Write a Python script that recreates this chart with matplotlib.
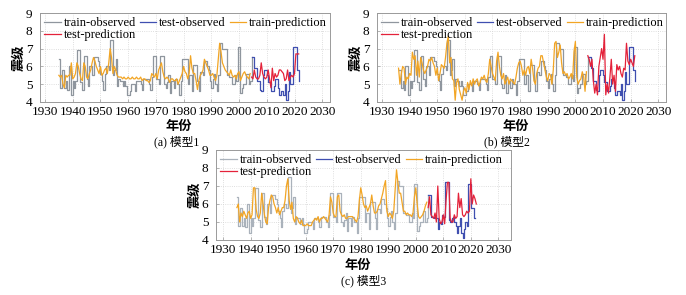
import numpy as np
import matplotlib.pyplot as plt

# observed magnitudes, half-year steps
obs_train = [6.4, 4.8, 5.8, 5.8, 4.8, 5.2, 4.7, 6.0, 6.0, 4.4,
             5.2, 4.8, 5.2, 6.9, 6.9, 5.1, 5.1, 4.7, 6.6, 6.6,
             5.3, 4.9, 6.0, 6.0, 5.5, 6.5, 6.5, 6.5, 6.3, 6.0,
             5.6, 5.2, 4.7, 5.6, 6.0, 6.0, 5.8, 7.5, 7.5, 5.5,
             5.8, 6.4, 4.9, 5.3, 5.2, 5.2, 4.9, 5.2, 4.9, 4.4,
             4.4, 4.6, 5.0, 5.0, 5.0, 4.6, 5.2, 5.2, 5.2, 5.0,
             4.7, 5.3, 5.3, 5.3, 5.3, 5.0, 4.7, 5.4, 6.6, 6.6,
             5.3, 5.3, 5.0, 6.6, 6.6, 6.6, 5.0, 4.8, 5.1, 5.5,
             4.5, 5.2, 5.2, 4.8, 5.3, 5.0, 5.0, 4.4, 5.2, 6.4,
             6.4, 6.4, 6.4, 5.0, 5.5, 5.5, 4.6, 6.1, 6.1, 6.1,
             5.2, 4.6, 5.7, 5.7, 5.5, 6.3, 6.3, 6.0, 5.8, 5.2,
             4.8, 5.3, 5.6, 5.0, 4.6, 5.5, 7.3, 7.3, 7.0, 7.0,
             7.0, 5.5, 5.5, 5.4, 5.4, 5.0, 5.0, 5.5, 5.2, 7.1,
             7.1, 4.5, 4.8, 5.0, 5.0, 5.6, 5.6, 5.0, 5.2]
obs_test = [6.5, 6.5, 5.9, 5.9, 5.2, 5.2, 4.7, 4.6, 5.5, 5.8,
            5.8, 5.5, 5.1, 5.1, 4.6, 4.6, 4.9, 5.3, 5.3, 4.8,
            4.4, 4.6, 4.6, 4.4, 5.0, 4.1, 4.6, 5.7, 5.0, 5.0,
            7.1, 7.1, 7.1, 5.8, 5.2]
obs_test_c = [6.5, 6.5, 5.3, 5.3, 5.2, 5.4, 5.2, 4.6, 5.0, 4.9,
              5.4, 5.3, 7.2, 7.2, 7.2, 5.1, 5.0, 5.2, 5.3, 5.0,
              4.8, 4.4, 4.8, 5.2, 4.4, 4.1, 4.6, 5.0, 4.8, 7.1,
              7.1, 5.8, 5.8, 5.2, 5.2]

# model 1
pred_train_1 = [5.5, 5.4, 5.5, 5.0, 4.8, 5.5, 5.4, 5.5, 5.5, 6.2,
                5.3, 5.4, 5.6, 6.2, 6.0, 5.6, 5.3, 5.2, 6.2, 6.0,
                5.4, 5.3, 5.6, 5.8, 6.2, 6.5, 6.3, 6.0, 5.8, 5.6,
                6.0, 5.5, 5.6, 5.8, 5.9, 5.6, 6.2, 7.0, 6.5, 5.6,
                6.0, 5.8, 5.5, 5.4, 5.4, 5.4, 5.3, 5.4, 5.3, 5.3,
                5.4, 5.3, 5.3, 5.4, 5.3, 5.3, 5.4, 5.3, 5.3, 5.4,
                5.2, 5.3, 5.3, 5.2, 5.2, 5.1, 5.2, 5.6, 5.5, 5.4,
                5.6, 5.3, 5.8, 6.0, 6.2, 5.7, 5.4, 5.3, 5.4, 5.3,
                5.1, 5.3, 5.3, 5.2, 5.2, 5.3, 5.0, 5.2, 5.4, 5.6,
                6.0, 5.7, 5.6, 5.3, 5.6, 6.6, 5.9, 5.6, 5.6, 5.2,
                4.7, 5.2, 5.5, 5.6, 5.8, 6.4, 6.2, 6.0, 5.8, 5.5,
                5.5, 5.6, 5.4, 5.2, 5.5, 6.4, 7.3, 6.8, 6.2, 6.0,
                5.8, 5.7, 5.6, 5.5, 5.8, 5.5, 5.4, 5.5, 5.3, 5.6,
                5.7, 5.2, 5.4, 5.6, 5.7, 5.5, 5.4, 5.3, 5.6]
pred_test_1 = [5.4, 5.3, 5.8, 5.4, 5.3, 5.3, 5.5, 6.2, 5.6, 5.4,
               5.3, 5.4, 5.8, 5.3, 4.8, 5.9, 5.2, 5.6, 5.4, 5.5,
               5.8, 5.8, 5.7, 5.6, 5.2, 5.3, 5.8, 5.2, 5.4, 5.5,
               5.4, 5.6, 6.7, 6.7, 6.7]

# model 2 (starts 1936)
pred_train_2 = [5.9, 5.0, 5.6, 6.0, 5.9, 5.0, 5.4, 5.3, 5.6, 5.5,
                6.8, 6.4, 6.6, 5.5, 6.3, 5.4, 6.5, 6.2, 5.8, 5.6,
                5.8, 6.0, 6.4, 6.3, 6.5, 6.2, 6.0, 5.5, 5.9, 5.2,
                5.6, 6.1, 6.0, 5.9, 6.5, 7.3, 7.7, 6.2, 6.5, 5.3,
                5.2, 4.1, 5.1, 5.3, 4.7, 4.4, 4.1, 4.6, 4.8, 4.5,
                5.1, 4.7, 5.2, 4.9, 5.3, 5.0, 5.2, 5.3, 4.9, 5.1,
                5.4, 5.3, 5.5, 5.2, 5.1, 5.6, 6.4, 6.0, 5.6, 5.4,
                5.2, 6.3, 6.8, 6.0, 5.5, 5.3, 5.6, 5.0, 5.2, 5.4,
                5.0, 5.3, 5.2, 5.1, 5.0, 5.4, 5.9, 6.2, 6.3, 6.0,
                5.5, 5.8, 5.5, 5.9, 6.0, 5.6, 6.4, 5.9, 5.2, 5.0,
                5.6, 5.9, 6.0, 6.6, 6.6, 6.2, 5.8, 5.4, 5.2, 5.6,
                5.5, 5.0, 5.8, 7.3, 7.4, 6.5, 6.8, 7.2, 6.2, 5.6,
                5.7, 5.5, 5.6, 5.3, 5.4, 5.6, 5.3, 6.8, 7.4, 5.4,
                5.0, 5.2, 5.3, 5.7, 5.4, 4.6, 5.7]
pred_test_2 = [6.6, 6.4, 6.0, 6.4, 5.2, 4.5, 5.0, 4.4, 6.0, 6.5,
               7.0, 6.4, 7.8, 4.4, 5.0, 4.5, 5.4, 6.4, 5.0, 5.5,
               4.6, 6.1, 5.8, 6.0, 5.6, 5.4, 5.9, 5.8, 7.3, 6.3,
               6.1, 6.4, 6.2, 6.0, 6.6]

# model 3
pred_train_3 = [5.8, 6.0, 5.0, 5.5, 5.3, 5.6, 5.4, 5.2, 5.5, 5.6,
                5.2, 5.4, 6.9, 6.9, 5.7, 5.3, 5.2, 5.5, 6.6, 6.0,
                5.4, 5.0, 4.9, 5.8, 6.2, 6.5, 6.4, 6.0, 5.8, 5.5,
                5.8, 5.4, 5.6, 5.8, 5.8, 6.2, 7.0, 7.4, 6.2, 5.7,
                6.1, 5.2, 5.0, 5.3, 5.2, 5.0, 4.9, 5.1, 4.8, 4.8,
                4.8, 4.9, 4.8, 4.8, 4.8, 5.0, 5.1, 5.2, 5.1, 5.3,
                5.0, 5.2, 5.2, 5.3, 5.2, 5.1, 5.0, 5.4, 6.4, 6.1,
                5.5, 5.3, 5.3, 6.4, 6.5, 5.6, 5.4, 5.3, 5.4, 5.2,
                5.2, 5.3, 5.3, 5.3, 5.3, 5.2, 5.1, 5.0, 5.3, 6.2,
                6.9, 6.5, 6.0, 5.8, 5.9, 5.6, 5.8, 6.0, 6.5, 5.9,
                5.5, 5.5, 5.6, 5.9, 6.0, 6.3, 6.6, 7.0, 7.3, 5.6,
                5.3, 5.5, 5.4, 5.2, 5.6, 6.8, 7.9, 7.2, 6.6, 6.6,
                6.1, 5.6, 5.6, 5.4, 5.5, 5.4, 5.4, 5.3, 5.5, 6.4,
                6.9, 6.0, 5.3, 5.2, 5.3, 5.4, 5.6, 5.9, 6.1]
pred_test_3 = [5.8, 6.4, 5.4, 5.3, 5.2, 5.5, 5.0, 7.0, 5.2, 4.9,
               5.0, 5.4, 4.9, 6.2, 7.2, 7.2, 5.2, 5.0, 5.0, 5.4,
               5.2, 5.3, 6.6, 5.8, 6.3, 5.4, 5.3, 5.4, 5.6, 5.5,
               5.6, 7.4, 6.0, 6.5, 6.3, 6.0]

labels = ['train-observed', 'test-observed', 'train-prediction', 'test-prediction']
colors = ['#8f969e', '#3f4fb0', '#f2a524', '#e4223a']
captions = ['(a) 模型1', '(b) 模型2', '(c) 模型3']

serif = ['Liberation Serif', 'Noto Sans CJK SC']
cjk = ['Noto Sans CJK SC', 'DejaVu Sans']

fig = plt.figure(figsize=(6.86, 2.95), dpi=100)
W, H = 686, 295
boxes = [(40, 13, 290, 89), (377, 13, 289, 89), (216, 150, 295, 90)]
xlims = [(1928.2, 2032.8), (1928.2, 2032.8), (1927.4, 2034.6)]
xlab_dy = [25, 25, 25.5]
cap_dy = [39.5, 39.5, 40.5]
cap_x = [0.47, 0.45, 0.5]

panels = [
    (1935.0, obs_train, obs_test, 1935.0, pred_train_1, pred_test_1),
    (1936.0, obs_train[2:], obs_test, 1936.0, pred_train_2, pred_test_2),
    (1935.0, obs_train, obs_test_c, 1935.0, pred_train_3, pred_test_3),
]

for i, (box, xl, p) in enumerate(zip(boxes, xlims, panels)):
    x0, y0, w, h = box
    ax = fig.add_axes([x0 / W, 1 - (y0 + h) / H, w / W, h / H])
    s_obs, o_tr, o_te, s_pred, p_tr, p_te = p
    t_tr = s_obs + 0.5 * np.arange(len(o_tr))
    t_te = 2004.5 + 0.5 * np.arange(len(o_te))
    tp_tr = s_pred + 0.5 * np.arange(len(p_tr))
    tp_te = 2004.5 + 0.5 * np.arange(len(p_te))

    obs_col = colors[0] if i < 2 else '#aab2bb'
    l1, = ax.step(np.r_[t_tr, t_te[0]], np.r_[o_tr, o_te[0]], where='post',
                  color=obs_col, lw=0.9)
    l2, = ax.step(t_te, o_te, where='post', color=colors[1], lw=0.9)
    l3, = ax.plot(tp_tr, p_tr, color=colors[2], lw=0.9)
    l4, = ax.plot(tp_te, p_te, color=colors[3], lw=0.9)

    ax.set_xlim(*xl)
    ax.set_ylim(4, 9)
    ax.set_xticks(range(1930, 2031, 10))
    ax.set_yticks(range(4, 10))
    ax.grid(True, color='#d4d4d4', ls=':', lw=0.6)
    ax.tick_params(direction='in', length=2, width=0.5, colors='#999999',
                   labelcolor='black')
    ax.tick_params(axis='x', pad=3, labelsize=9.5)
    ax.tick_params(axis='y', pad=5.5, labelsize=9.5)
    for lab in ax.get_xticklabels() + ax.get_yticklabels():
        lab.set_family(serif)
    for sp in ax.spines.values():
        sp.set_color('#9a9a9a')
        sp.set_linewidth(0.7)

    ax.set_xlabel('年份', family=serif, fontsize=9.5, fontweight='bold')
    ax.xaxis.label.set_va('center')
    ax.xaxis.set_label_coords(0.48, -xlab_dy[i] / h)
    ax.set_ylabel('震级', family=cjk, fontsize=9.5, fontweight='bold', labelpad=0)

    ax.legend([l1, l4, l2, l3], [labels[0], labels[3], labels[1], labels[2]],
              ncol=3, loc='upper left', frameon=False,
              prop={'family': serif, 'size': 9},
              handlelength=1.3, handletextpad=0.25, columnspacing=0.3,
              labelspacing=0.0, borderaxespad=0.15, borderpad=0.2)

    ax.text(cap_x[i], -cap_dy[i] / h, captions[i], transform=ax.transAxes,
            ha='center', va='center', fontsize=8.5, family=serif)

fig.savefig('out.png', dpi=100)
